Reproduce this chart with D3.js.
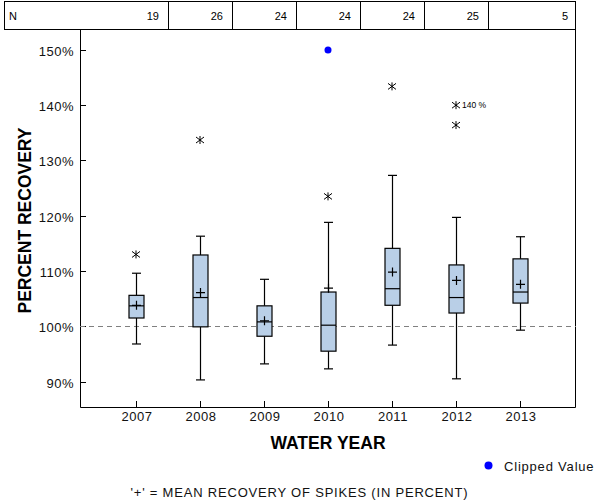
<!DOCTYPE html>
<html><head><meta charset="utf-8">
<script src="https://cdn.jsdelivr.net/npm/d3@7/dist/d3.min.js"></script>
<style>body{margin:0;background:#fff}svg{display:block;font-family:"Liberation Sans",Arial,sans-serif}</style>
</head><body><div id="chart"></div>
<script>
const years = ["2007","2008","2009","2010","2011","2012","2013"];
const counts = [19,26,24,24,24,25,5];
const q1 = [101.5,99.9,98.2,95.5,103.8,102.4,104.2];
const medians = [103.7,105.2,100.8,100.2,106.8,105.2,106.2];
const q3 = [105.6,112.9,103.7,106.2,114.1,111.1,112.2];
const whiskerLow = [96.8,90.3,93.2,92.3,96.6,90.5,99.3];
const whiskerHigh = [109.6,116.3,108.5,118.8,127.3,119.7,116.2];
const means = [103.8,106.1,101.0,106.9,109.8,108.3,107.6];
const outlierYears = ["2007","2008","2010","2011","2012","2012"];
const outlierValues = [113.0,133.7,123.5,143.4,140.0,136.4];
const clippedYears = ["2010"];
const clippedValues = [150];
const labelYears = ["2012"];
const labelValues = [140.0];
const labelTexts = ["140 %"];
const yTicks = [90,100,110,120,130,140,150];

(function(){
const W=600,H=500;
const svg=d3.select("#chart").append("svg").attr("width",W).attr("height",H);
svg.append("rect").attr("width",W).attr("height",H).attr("fill","#fff");

const pL=80,pR=576,pT=30,pB=407;
const x=d3.scalePoint().domain(years).range([pL,pR]).padding(0.875);
const y=d3.scaleLinear().domain([85.4,153.6]).range([pB,pT]);
const step=x.step();
const LS=0.8;

// N table
const tbl=svg.append("g");
tbl.append("rect").attr("x",4.5).attr("y",1.5).attr("width",571).attr("height",28)
  .attr("fill","none").attr("stroke","#000");
years.slice(0,-1).forEach(yr=>{
  const sx=Math.round(x(yr)+step/2)+0.5;
  tbl.append("line").attr("x1",sx).attr("x2",sx).attr("y1",1.5).attr("y2",29.5).attr("stroke","#000");
});
tbl.append("text").attr("x",9).attr("y",20).attr("font-size",11).text("N");
years.forEach((yr,i)=>{
  const ex = i<years.length-1 ? x(yr)+step/2-9 : 568;
  tbl.append("text").attr("x",ex).attr("y",20).attr("font-size",11).attr("text-anchor","end").text(counts[i]);
});

// frame
svg.append("path").attr("d",`M${pL+0.5},${pT}V${pB+0.5}H${pR-0.5}V${pT}`).attr("fill","none").attr("stroke","#000");

// y ticks (inside)
yTicks.forEach(t=>{
  const ty=Math.round(y(t))+0.5;
  svg.append("line").attr("x1",pL).attr("x2",pL+6).attr("y1",ty).attr("y2",ty).attr("stroke","#000");
  svg.append("text").attr("x",74).attr("y",ty+5).attr("font-size",13).attr("letter-spacing",0.5)
    .attr("text-anchor","end").attr("fill","#111").text(t+"%");
});
// x ticks (inside)
years.forEach(yr=>{
  const tx=Math.round(x(yr))+0.5;
  svg.append("line").attr("x1",tx).attr("x2",tx).attr("y1",pB).attr("y2",pB-6).attr("stroke","#000");
  svg.append("text").attr("x",tx+0.4).attr("y",421).attr("font-size",13).attr("letter-spacing",0.5)
    .attr("text-anchor","middle").attr("fill","#111").text(yr);
});

// reference line
const ry=Math.round(y(100))+0.5;
svg.append("line").attr("x1",pL).attr("x2",pR).attr("y1",ry).attr("y2",ry)
  .attr("stroke","#808080").attr("stroke-dasharray","5,4");

// boxes
const bw=15, cw=9;
years.forEach((yr,i)=>{
  const cx=Math.round(x(yr))+0.5;
  const g=svg.append("g").attr("stroke","#000").attr("stroke-width",1.2);
  g.append("line").attr("x1",cx).attr("x2",cx).attr("y1",y(whiskerHigh[i])).attr("y2",y(q3[i]));
  g.append("line").attr("x1",cx).attr("x2",cx).attr("y1",y(q1[i])).attr("y2",y(whiskerLow[i]));
  g.append("line").attr("x1",cx-cw/2).attr("x2",cx+cw/2).attr("y1",y(whiskerHigh[i])).attr("y2",y(whiskerHigh[i]));
  g.append("line").attr("x1",cx-cw/2).attr("x2",cx+cw/2).attr("y1",y(whiskerLow[i])).attr("y2",y(whiskerLow[i]));
  g.append("rect").attr("x",cx-bw/2).attr("width",bw).attr("y",y(q3[i])).attr("height",y(q1[i])-y(q3[i]))
    .attr("fill","#b9cfe7");
  g.append("line").attr("x1",cx-bw/2).attr("x2",cx+bw/2).attr("y1",y(medians[i])).attr("y2",y(medians[i]));
  const my=y(means[i]);
  g.append("path").attr("d",`M${cx-4.5},${my}H${cx+4.5}M${cx},${my-4.5}V${my+4.5}`);
});

// outliers (asterisks)
outlierValues.forEach((v,i)=>{
  const cx=x(outlierYears[i]), cy=y(v);
  svg.append("path").attr("d",`M${cx-4},${cy-3}L${cx+4},${cy+3}M${cx-4},${cy+3}L${cx+4},${cy-3}M${cx},${cy-4}V${cy+4}`)
    .attr("stroke","#000").attr("stroke-width",1).attr("fill","none");
});
labelValues.forEach((v,i)=>{
  svg.append("text").attr("x",x(labelYears[i])+6).attr("y",y(v)+3).attr("font-size",8.5).attr("fill","#000").text(labelTexts[i]);
});
clippedValues.forEach((v,i)=>{
  svg.append("circle").attr("cx",x(clippedYears[i])).attr("cy",y(v)).attr("r",3.5).attr("fill","#0000ff");
});

// axis titles
svg.append("text").attr("transform",`translate(31,${(pT+pB)/2+2}) rotate(-90)`).attr("text-anchor","middle")
  .attr("font-size",17.5).attr("font-weight","bold").text("PERCENT RECOVERY");
svg.append("text").attr("x",328).attr("y",449).attr("text-anchor","middle").attr("font-size",17.5).attr("font-weight","bold").text("WATER YEAR");

// legend
svg.append("circle").attr("cx",488.5).attr("cy",465.5).attr("r",4).attr("fill","#0000ff");
svg.append("text").attr("x",504).attr("y",471).attr("font-size",13).attr("letter-spacing",LS).attr("fill","#111").text("Clipped Value");
svg.append("text").attr("x",299+LS/2).attr("y",497).attr("text-anchor","middle").attr("font-size",13).attr("letter-spacing",LS).attr("fill","#111")
  .text("'+' = MEAN RECOVERY OF SPIKES (IN PERCENT)");
})();
</script></body></html>
